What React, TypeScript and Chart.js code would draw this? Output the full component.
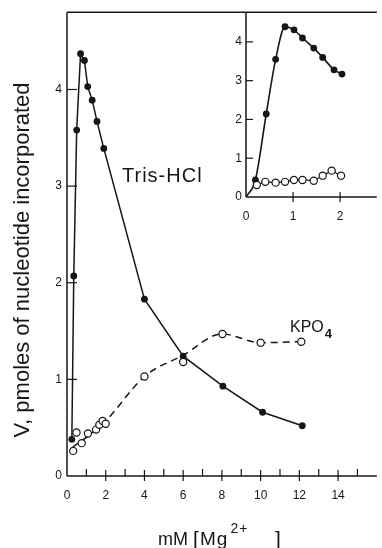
import React, { useEffect, useRef } from "react";
import { Chart, registerables } from "chart.js";

Chart.register(...registerables);

// ---------- main plot data ----------
const trisX = [0.25, 0.35, 0.5, 0.7, 0.9, 1.07, 1.3, 1.55, 1.9, 4, 6, 8.05, 10.1, 12.15];
const trisY = [0.38, 2.07, 3.58, 4.37, 4.3, 4.03, 3.89, 3.67, 3.39, 1.83, 1.24, 0.93, 0.66, 0.52];

const kpoX = [0.32, 0.49, 0.76, 1.08, 1.5, 1.67, 1.84, 2.0, 4.0, 6.0, 8.03, 10.0, 12.1];
const kpoY = [0.26, 0.45, 0.34, 0.44, 0.48, 0.53, 0.57, 0.54, 1.03, 1.18, 1.47, 1.38, 1.39];

// dashed hand-drawn curve through the KPO4 points
const kpoCurveX = [0.3, 1.0, 2.0, 4.0, 6.0, 8.0, 10.0, 12.1];
const kpoCurveY = [0.3, 0.4, 0.57, 1.03, 1.25, 1.47, 1.38, 1.39];

const xTickLabels = [0, 2, 4, 6, 8, 10, 12, 14];
const xMinorTicks = [1, 3, 5, 7, 9, 11, 13, 15];
const yTickLabels = [0, 1, 2, 3, 4];

// ---------- inset data ----------
const insetTrisX = [0.2, 0.43, 0.63, 0.83, 1.02, 1.2, 1.44, 1.63, 1.87, 2.04];
const insetTrisY = [0.44, 2.14, 3.55, 4.39, 4.31, 4.1, 3.84, 3.6, 3.28, 3.17];
const insetTrisCurveX = [0, 0.2, 0.43, 0.63, 0.83, 1.02, 1.2, 1.44, 1.63, 1.87, 2.04];
const insetTrisCurveY = [0, 0.44, 2.14, 3.55, 4.39, 4.31, 4.1, 3.84, 3.6, 3.28, 3.17];

const insetKpoX = [0.23, 0.41, 0.63, 0.83, 1.02, 1.2, 1.44, 1.63, 1.82, 2.02];
const insetKpoY = [0.31, 0.39, 0.37, 0.39, 0.44, 0.44, 0.42, 0.55, 0.68, 0.55];

const insetXTickLabels = [0, 1, 2];
const insetYTickLabels = [0, 1, 2, 3, 4];

// ---------- text ----------
const Y_TITLE = "V, pmoles of nucleotide incorporated";
const TRIS_LABEL = "Tris-HCl";
const KPO_LABEL = "KPO";
const KPO_SUB = "4";

const INK = "#161616";
const FAMILY = '"Liberation Sans", Arial, sans-serif';

const pts = (xs: number[], ys: number[]) => xs.map((x, i) => ({ x, y: ys[i] }));

function seg(ctx: CanvasRenderingContext2D, x1: number, y1: number, x2: number, y2: number) {
  ctx.beginPath();
  ctx.moveTo(x1, y1);
  ctx.lineTo(x2, y2);
  ctx.stroke();
}

const mainDeco = {
  id: "mainDeco",
  afterDraw(chart: any) {
    const { ctx, chartArea: a, scales } = chart;
    const x = scales.x;
    const y = scales.y;
    ctx.save();
    ctx.strokeStyle = INK;
    ctx.lineWidth = 1.5;
    // axes + top frame line
    seg(ctx, a.left, a.top, a.left, a.bottom);
    seg(ctx, a.left, a.bottom, a.right, a.bottom);
    seg(ctx, a.left, a.top, a.right, a.top);
    ctx.lineWidth = 1.2;
    for (const v of xTickLabels) {
      if (v === 0) continue;
      const px = x.getPixelForValue(v);
      seg(ctx, px, a.bottom - 6, px, a.bottom + 5);
    }
    for (const v of xMinorTicks) {
      const px = x.getPixelForValue(v);
      seg(ctx, px, a.bottom - 7, px, a.bottom);
    }
    for (const v of yTickLabels) {
      if (v === 0) continue;
      const py = y.getPixelForValue(v);
      seg(ctx, a.left, py, a.left + 10, py);
    }

    ctx.fillStyle = INK;
    ctx.textBaseline = "alphabetic";
    // y title
    ctx.save();
    ctx.translate(29, 260);
    ctx.rotate(-Math.PI / 2);
    ctx.textAlign = "center";
    ctx.font = `22px ${FAMILY}`;
    ctx.fillText(Y_TITLE, 0, 0);
    ctx.restore();

    // x title: mM [Mg2+ ]
    ctx.textAlign = "left";
    ctx.font = `18px ${FAMILY}`;
    ctx.fillText("mM", 158, 545);
    ctx.font = `21px ${FAMILY}`;
    ctx.fillText("[", 193, 546);
    (ctx as any).letterSpacing = "1px";
    ctx.font = `19px ${FAMILY}`;
    ctx.fillText("Mg", 200, 545);
    const mgW = ctx.measureText("Mg").width;
    ctx.font = `14px ${FAMILY}`;
    ctx.fillText("2+", 200 + mgW + 2, 533);
    (ctx as any).letterSpacing = "0px";
    ctx.font = `21px ${FAMILY}`;
    ctx.fillText("]", 275, 546);

    // series labels
    (ctx as any).letterSpacing = "1px";
    ctx.font = `20px ${FAMILY}`;
    ctx.fillText(TRIS_LABEL, 122, 182);
    (ctx as any).letterSpacing = "0px";
    ctx.font = `16px ${FAMILY}`;
    ctx.fillText(KPO_LABEL, 290, 332);
    const w = ctx.measureText(KPO_LABEL).width;
    ctx.font = `bold 13px ${FAMILY}`;
    ctx.fillText(KPO_SUB, 290 + w + 1, 338);
    ctx.restore();
  },
};

const insetDeco = {
  id: "insetDeco",
  afterDraw(chart: any) {
    const { ctx, chartArea: a, scales } = chart;
    const x = scales.x;
    const y = scales.y;
    ctx.save();
    ctx.strokeStyle = INK;
    ctx.lineWidth = 1.5;
    seg(ctx, a.left, a.top, a.left, a.bottom);
    seg(ctx, a.left, a.bottom, a.right, a.bottom);
    ctx.lineWidth = 1.2;
    for (const v of insetXTickLabels) {
      if (v === 0) continue;
      const px = x.getPixelForValue(v);
      seg(ctx, px, a.bottom - 5, px, a.bottom + 5);
    }
    for (const v of insetYTickLabels) {
      if (v === 0) continue;
      const py = y.getPixelForValue(v);
      seg(ctx, a.left, py, a.left + 7, py);
    }
    ctx.restore();
  },
};

function tickFixer(values: number[]) {
  return (axis: any) => {
    axis.ticks = values.map((v) => ({ value: v }));
  };
}

export default function App() {
  const mainRef = useRef<HTMLCanvasElement>(null);
  const insetRef = useRef<HTMLCanvasElement>(null);

  useEffect(() => {
    const tickFont = { family: FAMILY, size: 12 };
    const noGrid = { display: false, drawTicks: false };
    const main = new Chart(mainRef.current as HTMLCanvasElement, {
      type: "scatter",
      data: {
        datasets: [
          {
            data: pts(kpoX, kpoY),
            showLine: false,
            pointRadius: 3.6,
            pointBackgroundColor: "#ffffff",
            pointBorderColor: INK,
            pointBorderWidth: 1.2,
          },
          {
            data: pts(trisX, trisY),
            showLine: true,
            borderColor: INK,
            borderWidth: 1.5,
            tension: 0,
            pointRadius: 3.4,
            pointBackgroundColor: INK,
            pointBorderColor: INK,
            pointBorderWidth: 0,
          },
          {
            data: pts(kpoCurveX, kpoCurveY),
            showLine: true,
            borderColor: INK,
            borderWidth: 1.5,
            borderDash: [7, 5],
            cubicInterpolationMode: "monotone",
            pointRadius: 0,
          },
        ] as any,
      },
      plugins: [mainDeco],
      options: {
        animation: false,
        responsive: false,
        events: [],
        layout: { padding: { top: 12, right: 0, bottom: 0, left: 0 } },
        plugins: { legend: { display: false }, tooltip: { enabled: false } },
        scales: {
          x: {
            type: "linear",
            min: 0,
            max: 16,
            afterBuildTicks: tickFixer(xTickLabels),
            afterFit: (s: any) => {
              s.height = 72;
            },
            grid: noGrid,
            border: { display: false },
            ticks: { color: INK, font: tickFont, padding: 12, autoSkip: false, maxRotation: 0 },
          },
          y: {
            type: "linear",
            min: 0,
            max: 4.8,
            afterBuildTicks: tickFixer(yTickLabels),
            afterFit: (s: any) => {
              s.width = 67;
            },
            grid: noGrid,
            border: { display: false },
            ticks: { color: INK, font: tickFont, padding: 5, autoSkip: false },
          },
        },
      } as any,
    });

    const inset = new Chart(insetRef.current as HTMLCanvasElement, {
      type: "scatter",
      data: {
        datasets: [
          {
            data: pts(insetKpoX, insetKpoY),
            showLine: true,
            borderColor: INK,
            borderWidth: 1.2,
            tension: 0,
            pointRadius: 3.6,
            pointBackgroundColor: "#ffffff",
            pointBorderColor: INK,
            pointBorderWidth: 1.2,
          },
          {
            data: pts(insetTrisX, insetTrisY),
            showLine: false,
            pointRadius: 3.4,
            pointBackgroundColor: INK,
            pointBorderColor: INK,
            pointBorderWidth: 0,
          },
          {
            data: pts(insetTrisCurveX, insetTrisCurveY),
            showLine: true,
            borderColor: INK,
            borderWidth: 1.6,
            cubicInterpolationMode: "monotone",
            pointRadius: 0,
          },
        ] as any,
      },
      plugins: [insetDeco],
      options: {
        animation: false,
        responsive: false,
        events: [],
        layout: { padding: { top: 12, right: 0, bottom: 0, left: 0 } },
        plugins: { legend: { display: false }, tooltip: { enabled: false } },
        scales: {
          x: {
            type: "linear",
            min: 0,
            max: 2.78,
            afterBuildTicks: tickFixer(insetXTickLabels),
            afterFit: (s: any) => {
              s.height = 33;
            },
            grid: noGrid,
            border: { display: false },
            ticks: { color: INK, font: tickFont, padding: 12, autoSkip: false, maxRotation: 0 },
          },
          y: {
            type: "linear",
            min: 0,
            max: 4.77,
            afterBuildTicks: tickFixer(insetYTickLabels),
            afterFit: (s: any) => {
              s.width = 46;
            },
            grid: noGrid,
            border: { display: false },
            ticks: { color: INK, font: tickFont, padding: 4, autoSkip: false },
          },
        },
      } as any,
    });

    return () => {
      main.destroy();
      inset.destroy();
    };
  }, []);

  return (
    <div style={{ position: "absolute", left: 0, top: 0, width: 382, height: 548, background: "#ffffff" }}>
      <canvas ref={mainRef} width={382} height={548} style={{ position: "absolute", left: 0, top: 0 }} />
      <canvas ref={insetRef} width={182} height={230} style={{ position: "absolute", left: 200, top: 0 }} />
    </div>
  );
}
